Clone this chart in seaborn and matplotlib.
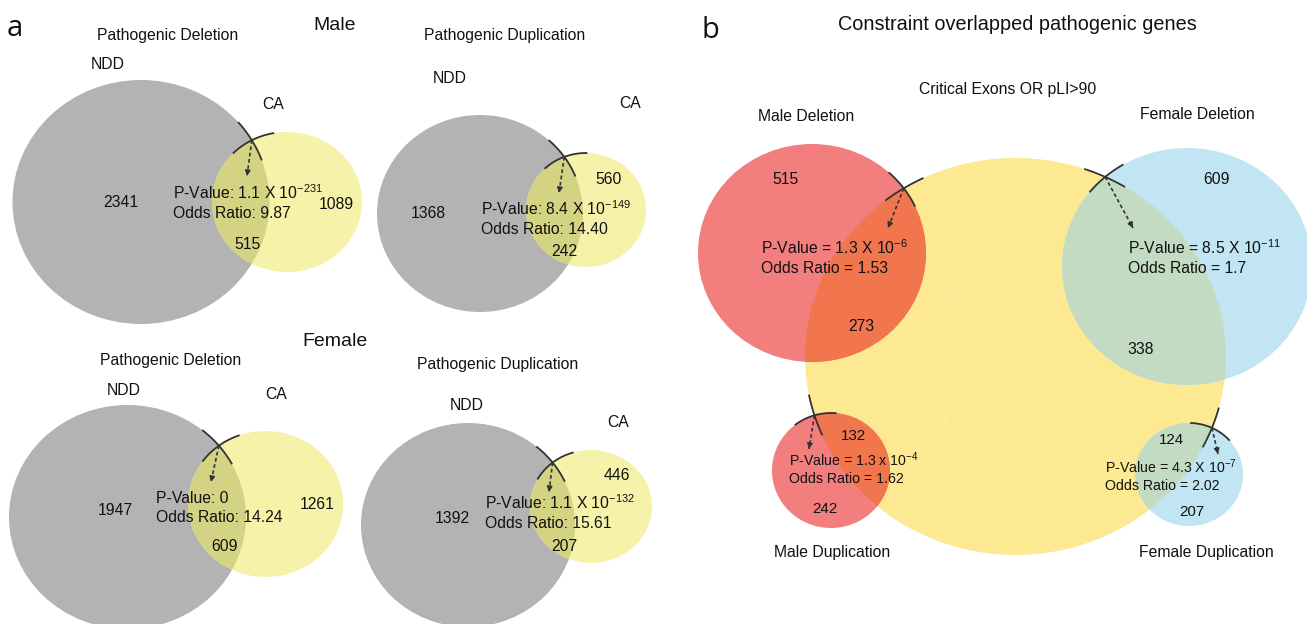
import numpy as np
import matplotlib
matplotlib.use("Agg")
import matplotlib.pyplot as plt
from matplotlib.patches import Ellipse
import seaborn as sns

# ---------------- data (panel a) ----------------
a_groups = ["Male", "Male", "Female", "Female"]
a_types = ["Pathogenic Deletion", "Pathogenic Duplication",
           "Pathogenic Deletion", "Pathogenic Duplication"]
a_set1 = "NDD"
a_set2 = "CA"
ndd_only = [2341, 1368, 1947, 1392]
ca_only = [1089, 560, 1261, 446]
ndd_ca_overlap = [515, 242, 609, 207]
a_pval_mant = ["1.1", "8.4", "0", "1.1"]
a_pval_exp = [-231, -149, None, -132]
a_odds = ["9.87", "14.40", "14.24", "15.61"]

# ---------------- data (panel b) ----------------
b_title = "Constraint overlapped pathogenic genes"
b_center_set = "Critical Exons OR pLI>90"
b_sets = ["Male Deletion", "Female Deletion", "Male Duplication", "Female Duplication"]
b_only = [515, 609, 242, 207]
b_overlap = [273, 338, 132, 124]
b_pval_mant = ["1.3", "8.5", "1.3", "4.3"]
b_pval_sep = ["X", "X", "x", "X"]
b_pval_exp = [-6, -11, -4, -7]
b_odds = ["1.53", "1.7", "1.62", "2.02"]

# ---------------- layout (pixel space) ----------------
a_geom = [
    ((141, 202), 257, 244, (287, 202), 150, 140),
    ((480, 213.5), 206, 197, (586, 210), 120, 114),
    ((127.5, 517), 237, 224, (265.5, 504), 155, 146),
    ((468, 525), 214, 204, (591, 506.5), 122, 113),
]
a_title_pos = [(97, 34), (424, 34), (100, 359), (417, 363)]
a_ndd_pos = [(91, 63), (433, 77), (107, 389), (450, 404)]
a_ca_pos = [(262, 103), (619, 102), (265, 393), (607, 421)]
a_ndd_num = [(121, 201), (428, 212), (115, 509), (452, 517)]
a_ca_num = [(336, 203), (609, 178), (317, 503), (617, 474)]
a_ov_num = [(247, 243), (564, 250), (224, 545), (564, 545)]
a_stat_pos = [(173, 193, 212), (481, 209, 228), (156, 497, 516), (485, 503, 522)]
a_arrow_end = [(247, 176), (559, 193), (211, 482), (549, 492)]
a_group_pos = {"Male": (313, 23), "Female": (302, 339)}

big_c, big_w, big_h = (1015.5, 356.5), 421, 397
b_geom = [((812, 253), 228, 218), ((1187, 266.5), 250, 237),
          ((831, 470.5), 118, 115), ((1189, 474.5), 108, 103)]
b_label_pos = [(758, 115), (1140, 113), (774, 551), (1139, 551)]
b_only_num = [(785, 178), (1216, 178), (825, 508), (1192, 511)]
b_ov_num = [(861, 325), (1141, 348), (853, 435), (1172, 439)]
b_stat_pos = [(761, 248, 267), (1128, 248, 267), (789, 461, 478), (1105, 468, 485)]
b_stat_size = [11.3, 11.3, 10.2, 10.2]
b_num_size = [11.3, 11.3, 10.9, 10.9]
b_arrow_end = [(888, 228), (1133, 228), (809, 449), (1218, 454)]
b_colors = ["#f27e7e", "#c2e5f3", "#f27e7e", "#c2e5f3"]
b_ov_colors = ["#f1764e", "#c4dbc3", "#f1764e", "#c4dbc3"]

GRAY, YEL, OVL = "#b3b3b3", "#f6f2a9", "#d4d383"
BIGYEL = "#fde992"
INK = "#333333"

# ---------------- style ----------------
sns.set_theme(style="white")
plt.rcParams["font.family"] = ["Liberation Sans", "DejaVu Sans"]
plt.rcParams["mathtext.fontset"] = "custom"
plt.rcParams["mathtext.rm"] = "Liberation Sans"
plt.rcParams["mathtext.it"] = "Liberation Sans:italic"
plt.rcParams["mathtext.bf"] = "Liberation Sans:bold"

fig = plt.figure(figsize=(13.07, 6.24), dpi=100)
ax = fig.add_axes([0, 0, 1, 1])
ax.set_xlim(0, 1307)
ax.set_ylim(624, 0)
ax.axis("off")

PX = 100 / 72.0
FS = 11.3


def txt(x, y, s, size=FS, ha="left", family=None, color="#111111"):
    kw = {}
    if family:
        kw["family"] = family
    ax.text(x, y + 0.36 * size * PX, s, fontsize=size, ha=ha, va="baseline",
            color=color, **kw)


def ell(c, w, h, color, z, clip=None):
    e = Ellipse(c, w, h, facecolor=color, edgecolor="none", zorder=z)
    ax.add_patch(e)
    if clip is not None:
        e.set_clip_path(clip)
    return e


def upper_intersection(c1, w1, h1, c2, w2, h2):
    t = np.linspace(0, 2 * np.pi, 40001)
    x = c1[0] + w1 / 2 * np.cos(t)
    y = c1[1] + h1 / 2 * np.sin(t)
    f = ((x - c2[0]) / (w2 / 2)) ** 2 + ((y - c2[1]) / (h2 / 2)) ** 2 - 1
    idx = np.where(np.sign(f[:-1]) != np.sign(f[1:]))[0]
    i = min(idx, key=lambda k: y[k])
    xi, yi = x[i], y[i]
    t1 = t[i]
    t2 = np.arctan2((yi - c2[1]) / (h2 / 2), (xi - c2[0]) / (w2 / 2))
    return xi, yi, t1, t2


def arc(c, w, h, t0, L):
    r = (w + h) / 4
    dt = L / r
    t = np.linspace(t0 - dt, t0 + dt, 60)
    ax.plot(c[0] + w / 2 * np.cos(t), c[1] + h / 2 * np.sin(t),
            color=INK, lw=1.3, zorder=10, solid_capstyle="butt")


def cross_marker(cA, wA, hA, cB, wB, hB, end, L=23):
    xi, yi, tA, tB = upper_intersection(cA, wA, hA, cB, wB, hB)
    arc(cA, wA, hA, tA, L)
    arc(cB, wB, hB, tB, L)
    ex, ey = end
    ax.plot([xi, ex], [yi, ey], color=INK, lw=1.2, ls=(0, (2.2, 1.6)), zorder=10)
    d = np.array([ex - xi, ey - yi])
    d = d / np.hypot(*d)
    ax.annotate("", xy=(ex, ey), xytext=(ex - 3 * d[0], ey - 3 * d[1]),
                arrowprops=dict(arrowstyle="-|>", color=INK, lw=1.0,
                                mutation_scale=8, shrinkA=0, shrinkB=0),
                zorder=11)


def pstr(prefix, mant, sep, exp):
    if exp is None:
        return f"{prefix}{mant}"
    return prefix + mant + " " + sep + " 10$^{\\mathregular{" + str(exp) + "}}$"


# ---------------- panel a ----------------
txt(7, 26, "a", size=21, family=["Open Sans", "DejaVu Sans"], color="#111111")
for g, (x, y) in a_group_pos.items():
    txt(x, y, g, size=14)

for i in range(4):
    gc, gw, gh, yc, yw, yh = a_geom[i]
    gp = ell(gc, gw, gh, GRAY, 1)
    ell(yc, yw, yh, YEL, 2)
    ell(yc, yw, yh, OVL, 3, clip=gp)
    cross_marker(gc, gw, gh, yc, yw, yh, a_arrow_end[i], L=23)

    txt(*a_title_pos[i], a_types[i])
    txt(*a_ndd_pos[i], a_set1)
    txt(*a_ca_pos[i], a_set2)
    txt(*a_ndd_num[i], str(ndd_only[i]), ha="center")
    txt(*a_ca_num[i], str(ca_only[i]), ha="center")
    txt(*a_ov_num[i], str(ndd_ca_overlap[i]), ha="center")
    sx, sy1, sy2 = a_stat_pos[i]
    txt(sx, sy1, pstr("P-Value: ", a_pval_mant[i], "X", a_pval_exp[i]))
    txt(sx, sy2, f"Odds Ratio: {a_odds[i]}")

# ---------------- panel b ----------------
txt(701, 27, "b", size=21, family=["Open Sans", "DejaVu Sans"], color="#111111")
txt(838, 23, b_title, size=14.3)
txt(919, 88, b_center_set)

bigp = ell(big_c, big_w, big_h, BIGYEL, 1)
# faint tiling seams visible inside the big circle
for xs, ys in [([945, 945], [150, 423]), ([850, 945], [423, 423]), ([945, 1070], [290, 290])]:
    ln, = ax.plot(xs, ys, color="#fdeea6", lw=0.9, zorder=1.5)
    ln.set_clip_path(bigp)

for i in range(4):
    c, w, h = b_geom[i]
    ell(c, w, h, b_colors[i], 2)
    ell(c, w, h, b_ov_colors[i], 3, clip=bigp)
    cross_marker(c, w, h, big_c, big_w, big_h, b_arrow_end[i], L=22)

    txt(*b_label_pos[i], b_sets[i])
    sz = b_stat_size[i]
    txt(*b_only_num[i], str(b_only[i]), size=b_num_size[i], ha="center")
    txt(*b_ov_num[i], str(b_overlap[i]), size=b_num_size[i], ha="center")
    sx, sy1, sy2 = b_stat_pos[i]
    txt(sx, sy1, pstr("P-Value = ", b_pval_mant[i], b_pval_sep[i], b_pval_exp[i]), size=sz)
    txt(sx, sy2, f"Odds Ratio = {b_odds[i]}", size=sz)

fig.savefig("out.png", dpi=100, facecolor="white")
